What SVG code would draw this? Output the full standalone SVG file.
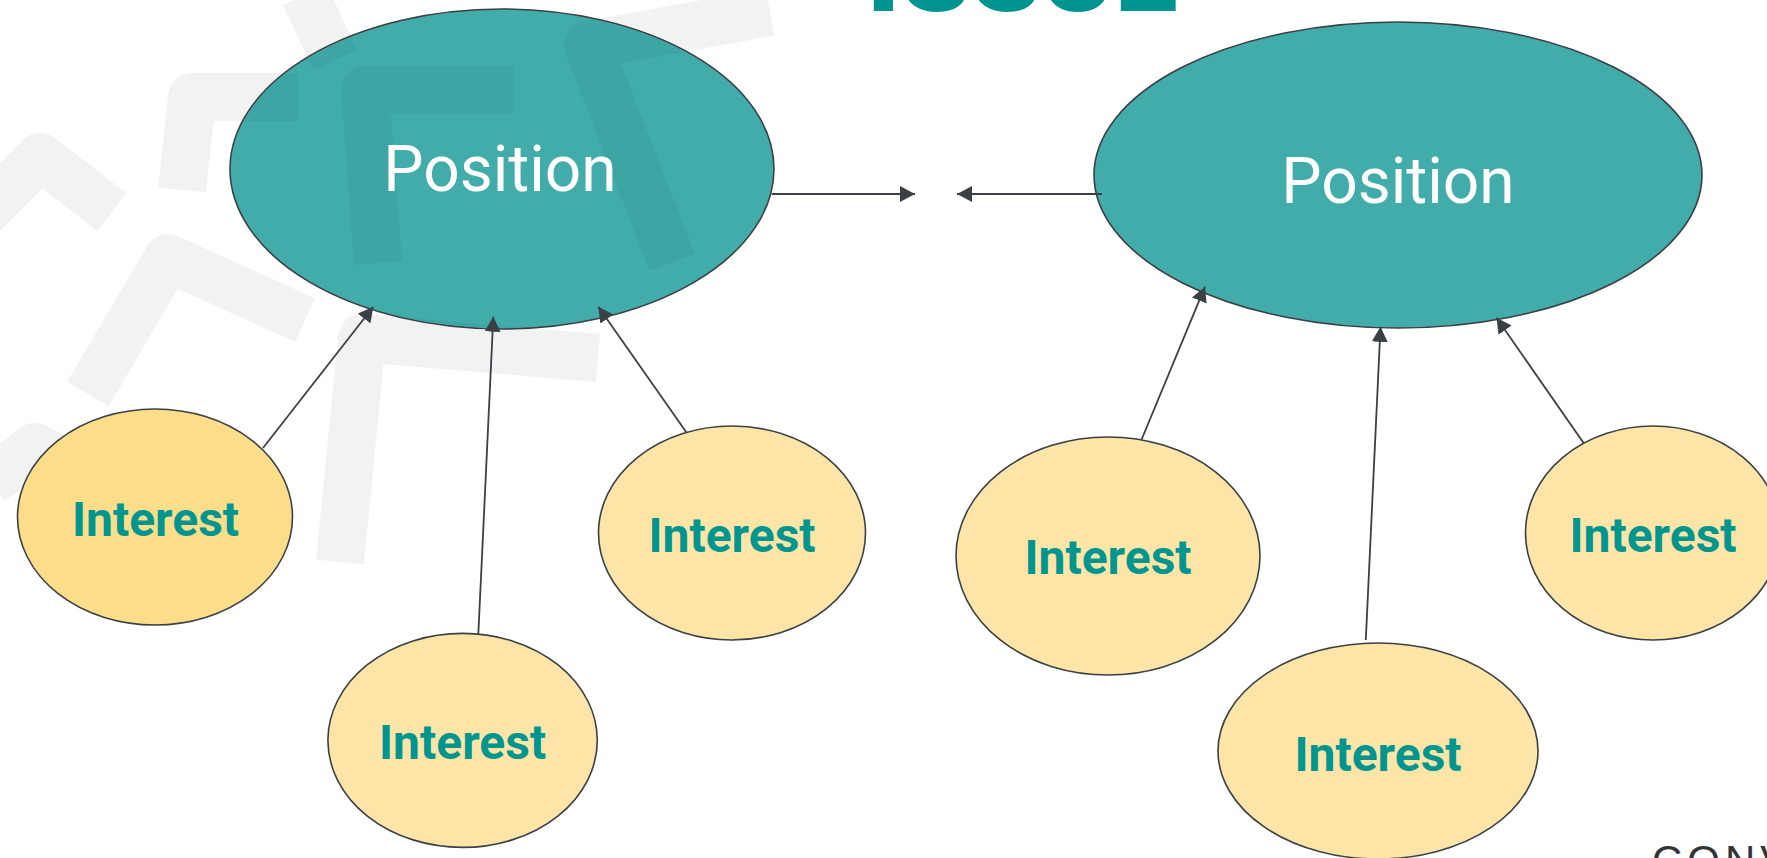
<svg xmlns="http://www.w3.org/2000/svg" xmlns:xlink="http://www.w3.org/1999/xlink" width="1767" height="858" viewBox="0 0 1767 858">
<defs>
<style>
.pos ellipse{fill:#42ACAA;stroke:#3B3F46;stroke-width:1.6}
.pos text{fill:#ffffff;font-family:Roboto,"Liberation Sans",sans-serif;font-size:64px;font-weight:400;text-anchor:middle}
.int ellipse{fill:#FDE5A7;stroke:#3B3F46;stroke-width:1.6}
.int text{fill:#00958F;font-family:Roboto,"Liberation Sans",sans-serif;font-size:48px;font-weight:700;text-anchor:middle}
.wm path{fill:none;stroke-width:48;stroke-linejoin:round;stroke-linecap:butt}
.conn line{stroke:#3B3F46;stroke-width:1.8;marker-end:url(#ah)}
</style>
<marker id="ah" viewBox="0 0 15 16" refX="15" refY="8" markerWidth="15" markerHeight="16" markerUnits="userSpaceOnUse" orient="auto">
<path d="M0,0 L15,8 L0,16 z" fill="#3B3F46"/>
</marker>
<g id="wmshapes" class="wm">
<path d="M-30,227 L40,157 L112,212"/>
<path d="M182,190 L192,97 L298,97"/>
<path d="M378,263 L365,90 L513,90"/>
<path d="M672,262 L588,45 L770,12"/>
<path d="M305,-5 L335,60"/>
<path d="M88,394 L168,258 L305,320"/>
<path d="M340,562 L362,338 L598,358"/>
<path d="M-10,482 L35,447 L120,492"/>
</g>
<clipPath id="clipL">
<ellipse cx="502" cy="169" rx="271" ry="159"/>
</clipPath>
</defs>
<rect width="1767" height="858" fill="#ffffff"/>
<g id="watermark">
<use xlink:href="#wmshapes" stroke="#f2f2f2"/>
</g>
<g id="pos-left" class="pos">
<ellipse cx="502" cy="169" rx="272" ry="160"/>
<use xlink:href="#wmshapes" stroke="#3da6a4" clip-path="url(#clipL)"/>
<text x="500" y="191">Position</text>
</g>
<g id="pos-right" class="pos">
<ellipse cx="1398" cy="175" rx="304" ry="153"/>
<text x="1398" y="203">Position</text>
</g>
<g id="connectors" class="conn">
<line x1="772" y1="194" x2="915" y2="194"/>
<line x1="1102" y1="194" x2="957" y2="194"/>
<line x1="263" y1="448" x2="373.3" y2="306.7"/>
<line x1="478" y1="641" x2="493.3" y2="316.7"/>
<line x1="693" y1="441.7" x2="598.3" y2="306.7"/>
<line x1="1141.6" y1="439.5" x2="1205" y2="286.7"/>
<line x1="1365.8" y1="640" x2="1380.5" y2="326.8"/>
<line x1="1589" y1="450.8" x2="1496.5" y2="317.8"/>
</g>
<g id="int-1" class="int">
<ellipse cx="155" cy="517" rx="137.5" ry="108" style="fill:#FCDD8A"/>
<text x="155.5" y="536">Interest</text>
</g>
<g id="int-2" class="int">
<ellipse cx="462.6" cy="740.4" rx="134.7" ry="107"/>
<text x="462.6" y="759">Interest</text>
</g>
<g id="int-3" class="int">
<ellipse cx="732" cy="533" rx="133.5" ry="107"/>
<text x="732" y="552">Interest</text>
</g>
<g id="int-4" class="int">
<ellipse cx="1108" cy="556" rx="152" ry="119"/>
<text x="1108" y="574">Interest</text>
</g>
<g id="int-5" class="int">
<ellipse cx="1378" cy="751" rx="160" ry="108"/>
<text x="1378" y="771">Interest</text>
</g>
<g id="int-6" class="int">
<ellipse cx="1653" cy="533" rx="127.5" ry="107"/>
<text x="1653" y="552">Interest</text>
</g>
<text id="title" x="1022" y="11" fill="#009490" font-family="Roboto,'Liberation Sans',sans-serif" font-size="112" font-weight="900" text-anchor="middle" textLength="311" lengthAdjust="spacing">ISSUE</text>
<text id="footer" x="1652" y="875" fill="#333438" font-family="'Liberation Sans',sans-serif" font-size="42" letter-spacing="5">CONV</text>
</svg>
